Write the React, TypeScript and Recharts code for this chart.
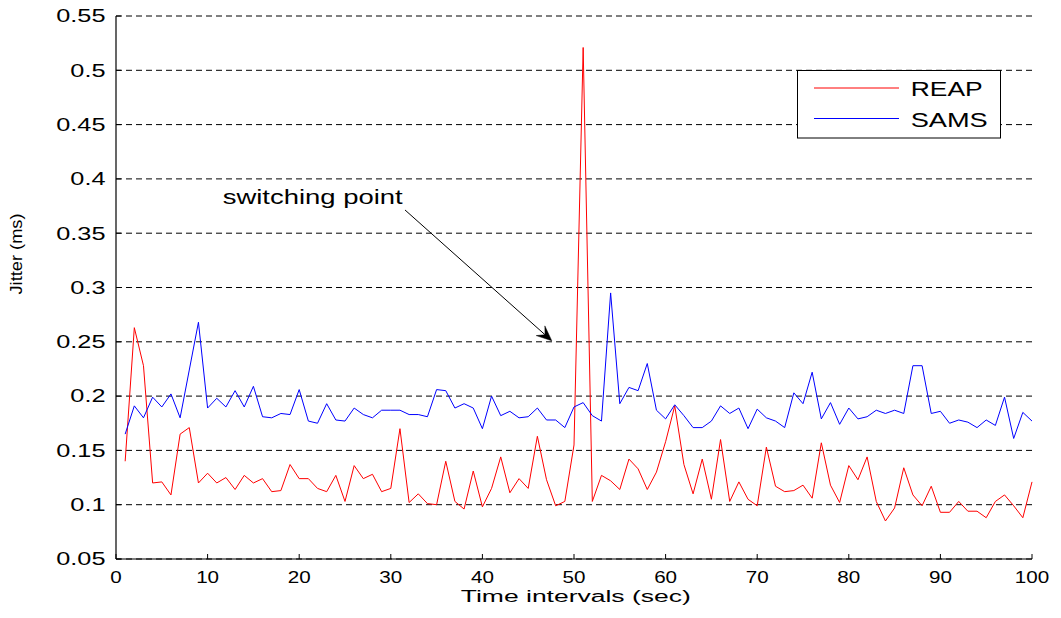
import React from 'react';
import { LineChart, Line, XAxis, YAxis, CartesianGrid, ReferenceLine, Legend, Label } from 'recharts';

const timeIntervals = [1,2,3,4,5,6,7,8,9,10,11,12,13,14,15,16,17,18,19,20,21,22,23,24,25,26,27,28,29,30,31,32,33,34,35,36,37,38,39,40,41,42,43,44,45,46,47,48,49,50,51,52,53,54,55,56,57,58,59,60,61,62,63,64,65,66,67,68,69,70,71,72,73,74,75,76,77,78,79,80,81,82,83,84,85,86,87,88,89,90,91,92,93,94,95,96,97,98,99,100];

const reap = [0.140,0.263,0.228,0.120,0.121,0.109,0.165,0.171,0.120,0.129,
  0.120,0.125,0.114,0.127,0.120,0.124,0.112,0.113,0.137,0.124,
  0.124,0.115,0.112,0.127,0.103,0.136,0.124,0.128,0.112,0.115,
  0.170,0.102,0.110,0.101,0.100,0.140,0.103,0.096,0.131,0.098,
  0.115,0.144,0.111,0.124,0.115,0.163,0.123,0.099,0.103,0.155,
  0.521,0.103,0.127,0.122,0.114,0.142,0.133,0.114,0.130,0.158,
  0.191,0.137,0.110,0.142,0.105,0.160,0.103,0.121,0.105,0.099,
  0.153,0.117,0.112,0.113,0.118,0.106,0.157,0.118,0.102,0.136,
  0.123,0.144,0.103,0.085,0.097,0.134,0.109,0.099,0.117,0.093,
  0.093,0.103,0.094,0.094,0.088,0.103,0.109,0.099,0.088,0.121];

const sams = [0.165,0.191,0.180,0.199,0.190,0.202,0.180,0.224,0.268,0.189,
  0.198,0.190,0.205,0.190,0.209,0.181,0.180,0.184,0.183,0.206,
  0.177,0.175,0.193,0.178,0.177,0.189,0.183,0.180,0.187,0.187,
  0.187,0.183,0.183,0.181,0.206,0.205,0.189,0.193,0.189,0.170,
  0.200,0.182,0.186,0.180,0.181,0.189,0.178,0.178,0.171,0.190,
  0.194,0.182,0.177,0.295,0.193,0.208,0.205,0.230,0.187,0.179,
  0.192,0.182,0.171,0.171,0.177,0.191,0.184,0.189,0.170,0.188,
  0.180,0.177,0.171,0.203,0.193,0.222,0.179,0.194,0.174,0.189,
  0.179,0.181,0.187,0.184,0.187,0.184,0.228,0.228,0.184,0.186,
  0.175,0.178,0.176,0.171,0.178,0.173,0.199,0.161,0.185,0.177];

const xTicks = [0,10,20,30,40,50,60,70,80,90,100];
const yTicks = [0.05,0.1,0.15,0.2,0.25,0.3,0.35,0.4,0.45,0.5,0.55];
const seriesNames = ['REAP', 'SAMS'];
const seriesColors = ['#ff0000', '#0000ff'];
const annotationText = 'switching point';
const arrowStart = { x: 31.55, y: 0.3714 };
const arrowEnd = { x: 47.57, y: 0.251 };
const xTitle = 'Time intervals (sec)';
const yTitle = 'Jitter (ms)';

const data = timeIntervals.map((t, i) => ({ t, REAP: reap[i], SAMS: sams[i] }));

const FONT = '"Liberation Sans", Arial, Helvetica, sans-serif';

const fmtY = (v: number) => String(Number(v.toFixed(2)));

const BottomTick = (props: any) => {
  const { x, y, payload } = props;
  return (
    <g>
      <line x1={x} x2={x} y1={y} y2={y - 5} stroke="#000" strokeWidth={1} />
      <text transform={`translate(${x},${y + 23.5}) scale(1.25,1)`} textAnchor="middle" fontSize={16.5} fontFamily={FONT} fill="#000">
        {payload.value}
      </text>
    </g>
  );
};

const TopTick = (props: any) => {
  const { x, y } = props;
  return <line x1={x} x2={x} y1={y} y2={y + 5} stroke="#000" strokeWidth={1} />;
};

const LeftTick = (props: any) => {
  const { x, y, payload } = props;
  return (
    <g>
      <line x1={x} x2={x + 5} y1={y} y2={y} stroke="#000" strokeWidth={1} />
      <text transform={`translate(${x - 10.5},${y + 6.3}) scale(1.43,1)`} textAnchor="end" fontSize={17.7} fontFamily={FONT} fill="#000">
        {fmtY(payload.value)}
      </text>
    </g>
  );
};

const RightTick = (props: any) => {
  const { x, y } = props;
  return <line x1={x} x2={x - 5} y1={y} y2={y} stroke="#000" strokeWidth={1} />;
};

const ArrowShape = (props: any) => {
  const { x1, y1, x2, y2 } = props;
  const dx = x2 - x1;
  const dy = y2 - y1;
  const len = Math.sqrt(dx * dx + dy * dy);
  const ux = dx / len;
  const uy = dy / len;
  const px = -uy;
  const py = ux;
  const L = 15;
  const W = 6.5;
  const bx = x2 - ux * L;
  const by = y2 - uy * L;
  const nx = x2 - ux * L * 0.6;
  const ny = y2 - uy * L * 0.6;
  const pts = `${x2},${y2} ${bx + px * W},${by + py * W} ${nx},${ny} ${bx - px * W},${by - py * W}`;
  return (
    <g>
      <line x1={x1} y1={y1} x2={nx} y2={ny} stroke="#000" strokeWidth={1} />
      <polygon points={pts} fill="#000" stroke="#000" strokeWidth={0.5} />
      <text x={x1 - 2.3} y={y1 - 5.7} textAnchor="end" fontSize={20} fontFamily={FONT} fill="#000" textLength={180} lengthAdjust="spacingAndGlyphs">
        {annotationText}
      </text>
    </g>
  );
};

const XTitle = () => (
  <text x={575.8} y={602} textAnchor="middle" fontSize={16} fontFamily={FONT} fill="#000" textLength={230} lengthAdjust="spacingAndGlyphs">
    {xTitle}
  </text>
);

const YTitle = () => (
  <text transform="translate(21.7,254) rotate(-90)" textAnchor="middle" fontSize={16.5} fontFamily={FONT} fill="#000" textLength={81} lengthAdjust="spacingAndGlyphs">
    {yTitle}
  </text>
);

const LegendBox = () => (
  <svg width={205} height={70} style={{ display: 'block' }}>
    <rect x={0.5} y={0.5} width={203} height={67.5} fill="#fff" stroke="#000" strokeWidth={1} />
    {seriesNames.map((name, i) => {
      const yy = 18 + i * 30.5;
      return (
        <g key={name}>
          <line x1={17} x2={102} y1={yy} y2={yy} stroke={seriesColors[i]} strokeWidth={1} />
          <text x={113.7} y={yy + 8} fontSize={21} fontFamily={FONT} fill="#000" textLength={i === 0 ? 72 : 77} lengthAdjust="spacingAndGlyphs">
            {name}
          </text>
        </g>
      );
    })}
  </svg>
);

export default function App() {
  return (
    <div style={{ position: 'absolute', left: 0, top: 0, width: 1061, height: 618, background: '#fff' }}>
      <LineChart width={1061} height={618} data={data} margin={{ top: 16, right: 29, bottom: 9, left: 16 }}>
        <CartesianGrid horizontal={true} vertical={false} stroke="#000" strokeDasharray="6 4" strokeWidth={1} />
        <XAxis
          dataKey="t"
          type="number"
          domain={[0, 100]}
          ticks={xTicks}
          height={50}
          tickSize={0}
          tickMargin={0}
          tickLine={false}
          axisLine={{ stroke: '#000', strokeWidth: 1.2 }}
          tick={<BottomTick />}
          interval={0}
        >
          <Label content={<XTitle />} />
        </XAxis>
        <XAxis
          xAxisId="top"
          orientation="top"
          dataKey="t"
          type="number"
          domain={[0, 100]}
          ticks={xTicks}
          height={0}
          tickSize={0}
          tickMargin={0}
          tickLine={false}
          axisLine={{ stroke: '#000', strokeWidth: 1.2 }}
          tick={<TopTick />}
          interval={0}
        />
        <YAxis
          type="number"
          domain={[0.05, 0.55]}
          ticks={yTicks}
          width={100}
          tickSize={0}
          tickMargin={0}
          tickLine={false}
          axisLine={{ stroke: '#000', strokeWidth: 1.2 }}
          tick={<LeftTick />}
          interval={0}
          allowDataOverflow={true}
        >
          <Label content={<YTitle />} />
        </YAxis>
        <YAxis
          yAxisId="right"
          orientation="right"
          type="number"
          domain={[0.05, 0.55]}
          ticks={yTicks}
          width={0}
          tickSize={0}
          tickMargin={0}
          tickLine={false}
          axisLine={{ stroke: '#000', strokeWidth: 1.2 }}
          tick={<RightTick />}
          interval={0}
          allowDataOverflow={true}
        />
        <Line type="linear" dataKey="REAP" stroke={seriesColors[0]} strokeWidth={1} dot={false} isAnimationActive={false} />
        <Line type="linear" dataKey="SAMS" stroke={seriesColors[1]} strokeWidth={1} dot={false} isAnimationActive={false} />
        <ReferenceLine segment={[arrowStart, arrowEnd]} shape={ArrowShape} ifOverflow="visible" />
        <Legend
          layout="vertical"
          align="center"
          verticalAlign="middle"
          content={() => <LegendBox />}
          wrapperStyle={{ position: 'absolute', left: 797, top: 70, width: 205, height: 70 }}
        />
      </LineChart>
    </div>
  );
}
